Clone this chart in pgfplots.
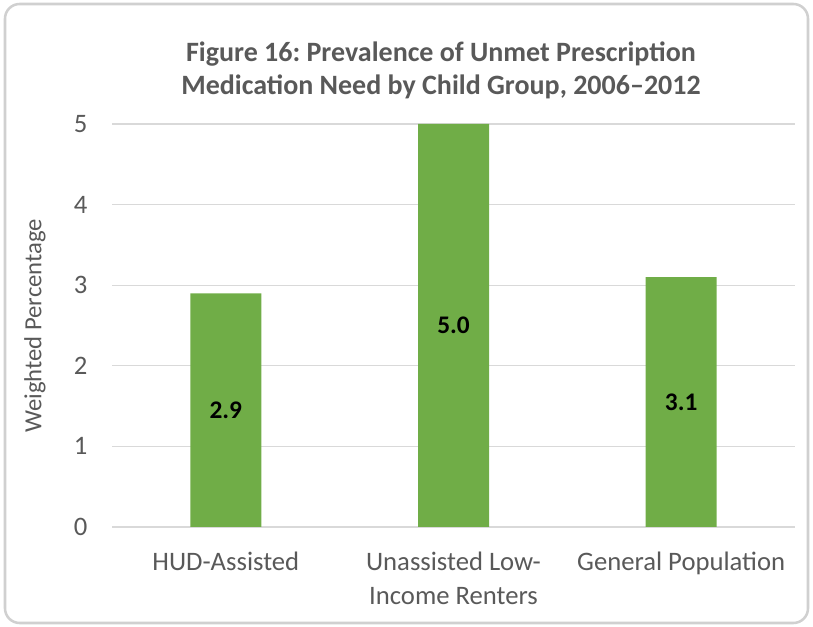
\documentclass[border=0pt]{standalone}
\usepackage{pgfplots}
\pgfplotsset{compat=1.18}
\usepackage{fontspec}
\setmainfont{Carlito}
\frenchspacing
\definecolor{bargreen}{HTML}{70AD47}
\definecolor{gridgray}{HTML}{D9D9D9}
\definecolor{framegray}{HTML}{D0D0D0}
\definecolor{txtgray}{HTML}{595959}
\begin{document}
\begin{tikzpicture}[x=0.75pt,y=0.75pt]
\useasboundingbox (0,0) rectangle (813,627);
\draw[framegray, line width=1.9pt, rounded corners=11pt] (5,4) rectangle (808,623);
\node[text=txtgray, font=\fontsize{21}{24.75}\selectfont\bfseries, align=center] at (441,557) {Figure 16: Prevalence of Unmet Prescription\\Medication Need by Child Group, 2006--2012};
\node[text=txtgray, font=\fontsize{18.5}{22}\selectfont, rotate=90] at (35,301) {Weighted Percentage};
\begin{axis}[
  at={(84pt,75pt)}, anchor=south west,
  scale only axis, width=512.25pt, height=302.25pt,
  xmin=-0.5, xmax=2.5, ymin=0, ymax=5,
  ytick={0,1,2,3,4,5},
  xtick=data,
  xticklabels={HUD-Assisted,{Unassisted Low-\\Income Renters},General Population},
  xticklabel style={align=center, text=txtgray, font=\fontsize{20}{25.5}\selectfont, yshift=-15pt},
  yticklabel style={text=txtgray, font=\fontsize{20}{22}\selectfont, xshift=-15pt},
  /pgf/number format/assume math mode=true,
  major tick length=0pt,
  axis x line*=bottom,
  axis y line*=left,
  y axis line style={draw=none},
  x axis line style={gridgray, line width=1pt, -},
  ymajorgrids, grid style={gridgray, line width=1pt},
  tick style={draw=none},
  ybar, bar width=53.25pt,
  nodes near coords={\pgfmathprintnumber[fixed,fixed zerofill,precision=1]{\pgfplotspointmeta}},
  visualization depends on=y \as \rawy,
  every node near coord/.append style={anchor=center, font=\fontsize{19}{22}\selectfont\bfseries, text=black, shift={(axis direction cs:0,-\rawy/2)}},
]
\addplot[fill=bargreen, draw=none] coordinates {(0,2.9) (1,5.0) (2,3.1)};
\end{axis}
\end{tikzpicture}
\end{document}
